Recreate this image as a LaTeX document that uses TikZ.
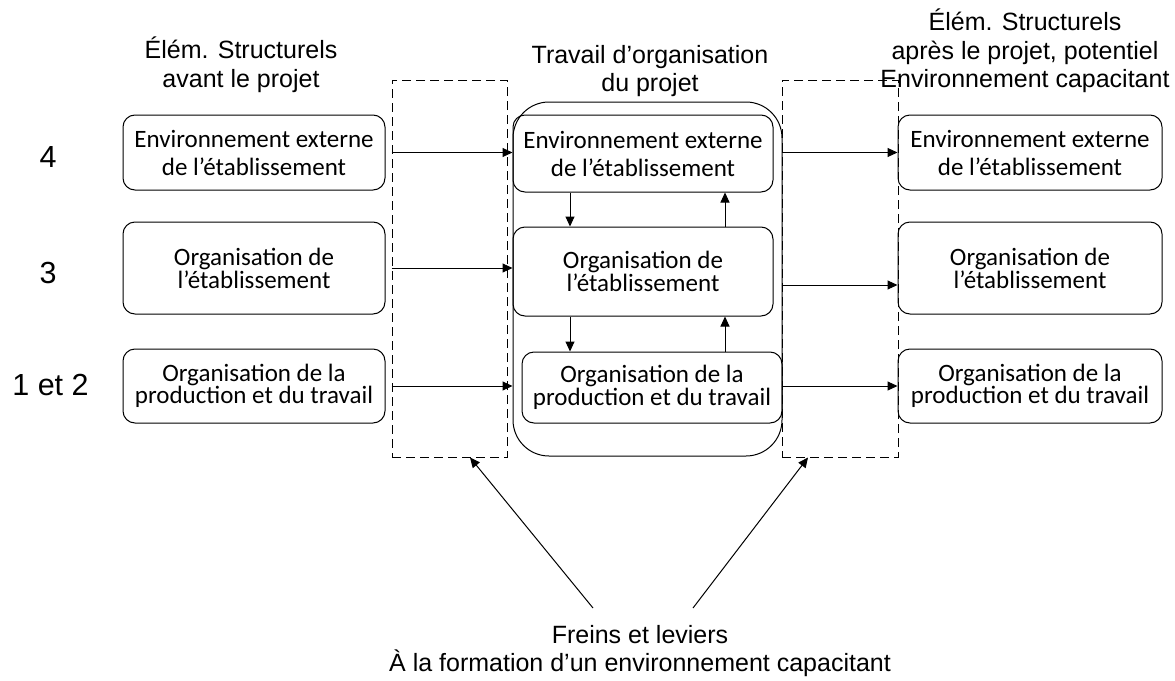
\documentclass[tikz,border=0pt]{standalone}
\usepackage{fontspec}
\setmainfont{Liberation Sans}
\newfontfamily\calibri{Carlito}
\usetikzlibrary{arrows.meta}

\tikzset{
  boite/.style={draw, line width=1pt, rounded corners=12pt, align=center, inner sep=0pt,
    font=\calibri\fontsize{25}{21}\selectfont},
  haute/.style={font=\calibri\fontsize{25}{28}\selectfont},
  tirets/.style={draw, line width=1pt, dash pattern=on 9pt off 5pt, inner sep=0pt},
  fleche/.style={line width=1pt, -{Triangle[length=10pt,width=9pt]}},
  titre/.style={align=center, inner sep=0pt, font=\fontsize{25}{28.5}\selectfont},
  rang/.style={inner sep=0pt, font=\fontsize{30.5}{34}\selectfont},
}

\begin{document}
\begin{tikzpicture}[x=1pt, y=-1pt]
\useasboundingbox (0,0) rectangle (1175,680);

% titres des colonnes
\node[titre] (tavant) at (241,65) {Élém. Structurels\\avant le projet};
\node[titre] (ttravail) at (650,71) {Travail d’organisation\\du projet};
\node[titre] (tapres) at (1025,51) {Élém. Structurels\\après le projet, potentiel\\Environnement capacitant};

\node[rang, anchor=base] (r4) at (48,167) {4};
\node[rang, anchor=base] (r3) at (48,283) {3};
\node[rang, anchor=base] (r12) at (50.5,395) {1 et 2};

% freins et leviers
\node[tirets, minimum width=115pt, minimum height=377pt] (frg) at (449.5,268.5) {};
\node[tirets, minimum width=116pt, minimum height=377pt] (frd) at (840,268.5) {};
\node[draw, line width=1pt, rounded corners=36pt, minimum width=269pt, minimum height=354pt] (travail) at (647.5,279) {};

\foreach \nom/\x/\w in {av/254/262, ap/1030/264}{
  \node[boite, haute, minimum width=\w pt, minimum height=75pt] (\nom1) at (\x,152.5) {Environnement externe\\de l’établissement};
  \node[boite, minimum width=\w pt, minimum height=92pt] (\nom2) at (\x,268) {Organisation de\\l’établissement};
  \node[boite, minimum width=\w pt, minimum height=74pt] (\nom3) at (\x,386) {Organisation de la\\production et du travail};
}

\node[boite, haute, minimum width=260pt, minimum height=77pt] (ce1) at (643,153.5) {Environnement externe\\de l’établissement};
\node[boite, minimum width=260pt, minimum height=89pt] (ce2) at (643,271.5) {Organisation de\\l’établissement};
\node[boite, minimum width=260pt, minimum height=71pt] (ce3) at (652,387.5) {Organisation de la\\production et du travail};

\draw[fleche] (frg.west |- av1) -- (travail.west |- av1);
\draw[fleche] (frg.west |- av2) -- (travail.west |- av2);
\draw[fleche] (frg.west |- av3) -- (travail.west |- av3);
\draw[fleche] (frd.west |- ap1) -- (ap1.west);
\draw[fleche] ([yshift=-17pt]frd.west |- ap2) -- ([yshift=-17pt]ap2.west);
\draw[fleche] (frd.west |- ap3) -- (ap3.west);

\draw[fleche] ([xshift=-73pt]ce1.south) -- ([xshift=-73pt]ce1.south |- ce2.north);
\draw[fleche] ([xshift=82pt]ce2.north) -- ([xshift=82pt]ce2.north |- ce1.south);
\draw[fleche] ([xshift=-73pt]ce2.south) -- ([xshift=-73pt]ce2.south |- ce3.north);
\draw[fleche] ([xshift=82pt]ce2.south |- ce3.north) -- ([xshift=82pt]ce2.south);

\node[titre] (freins) at (640,651) {Freins et leviers\\À la formation d’un environnement capacitant};
\coordinate (pg) at (593,608);
\coordinate (pd) at (693,608);
\draw[fleche] (pg) -- ([xshift=20.5pt]frg.south);
\draw[fleche] (pd) -- ([xshift=-32pt]frd.south);

\end{tikzpicture}
\end{document}
